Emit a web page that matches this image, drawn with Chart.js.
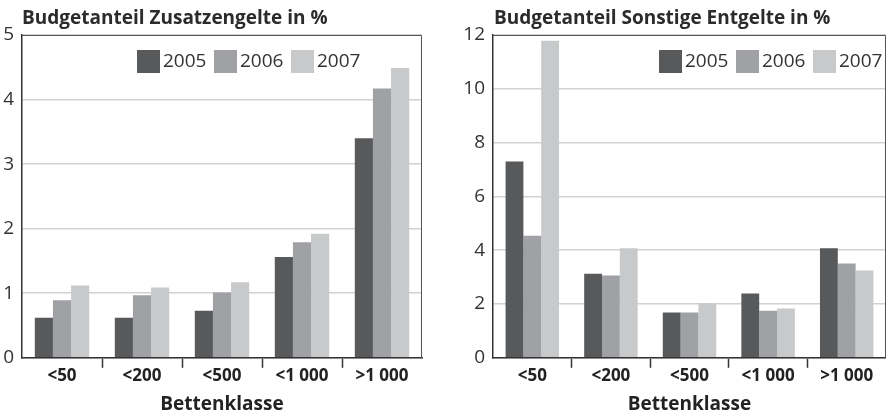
<!DOCTYPE html>
<html lang="de">
<head>
<meta charset="utf-8">
<title>Budgetanteile nach Bettenklasse</title>
<script src="https://cdn.jsdelivr.net/npm/chart.js@4.4.1/dist/chart.umd.min.js"></script>
<style>
  html, body { margin: 0; padding: 0; background: #fff; }
  body { width: 886px; height: 416px; position: relative; overflow: hidden; font-family: "Open Sans", sans-serif; }
  .panel { position: absolute; top: 0; width: 443px; height: 416px; }
  .panel h2 { position: absolute; top: 8px; margin: 0; font-size: 19px; line-height: 19px; font-weight: 700; color: #2b2b2b; white-space: nowrap; z-index: 2; }
</style>
</head>
<body>
<div class="panel" style="left:0">
  <h2 style="left:22px">Budgetanteil Zusatzengelte in %</h2>
  <canvas id="chartZusatz"></canvas>
</div>
<div class="panel" style="left:443px">
  <h2 style="left:51px">Budgetanteil Sonstige Entgelte in %</h2>
  <canvas id="chartSonstige"></canvas>
</div>
<script>
const categories = ["<50", "<200", "<500", "<1 000", ">1 000"];
const years = ["2005", "2006", "2007"];

const zusatz2005 = [0.62, 0.62, 0.73, 1.56, 3.40];
const zusatz2006 = [0.89, 0.97, 1.01, 1.79, 4.17];
const zusatz2007 = [1.12, 1.09, 1.17, 1.92, 4.49];

const sonstige2005 = [7.30, 3.12, 1.68, 2.39, 4.07];
const sonstige2006 = [4.54, 3.06, 1.68, 1.75, 3.51];
const sonstige2007 = [11.79, 4.07, 2.03, 1.83, 3.25];

const barColors = ["#58595b", "#a0a1a5", "#c8c9cb"];

Chart.defaults.font.family = "'Open Sans', sans-serif";

// top + right frame lines of the plot box
const frameLines = {
  id: "frameLines",
  beforeDatasetsDraw(chart) {
    const { ctx, chartArea: a } = chart;
    ctx.save();
    ctx.strokeStyle = "#555";
    ctx.lineWidth = 1;
    ctx.beginPath();
    ctx.moveTo(a.left, a.top + 0.5);
    ctx.lineTo(a.right - 0.5, a.top + 0.5);
    ctx.lineTo(a.right - 0.5, a.bottom);
    ctx.stroke();
    ctx.restore();
  }
};

// legend drawn inside the plot area
const boxLegend = {
  id: "boxLegend",
  afterDatasetsDraw(chart, args, opts) {
    const { ctx, chartArea: a } = chart;
    let x = a.left + opts.offsetX;
    const y = a.top + opts.offsetY;
    ctx.save();
    ctx.font = "19px 'Open Sans'";
    ctx.textBaseline = "middle";
    chart.data.datasets.forEach((ds) => {
      ctx.fillStyle = ds.backgroundColor;
      ctx.fillRect(x, y, 23, 23);
      ctx.fillStyle = "#333";
      ctx.fillText(ds.label, x + 26, y + 12);
      x += 77;
    });
    ctx.restore();
  }
};

const innerTicks = (c) => (c.index > 0 ? "#333" : "rgba(0,0,0,0)");

function makeChart(id, series, yMax, yStep, axisWidth, padRight, legendX) {
  return new Chart(document.getElementById(id), {
    type: "bar",
    data: {
      labels: categories,
      datasets: series.map((values, i) => ({
        label: years[i],
        data: values,
        backgroundColor: barColors[i],
        borderWidth: 0,
      })),
    },
    plugins: [frameLines, boxLegend],
    options: {
      responsive: true,
      maintainAspectRatio: false,
      animation: false,
      layout: { padding: { top: 35, right: padRight, bottom: 0, left: 0 } },
      datasets: { bar: { categoryPercentage: 0.68, barPercentage: 1 } },
      plugins: {
        legend: { display: false },
        tooltip: { enabled: false },
        boxLegend: { offsetX: legendX, offsetY: 15 },
      },
      scales: {
        x: {
          grid: {
            offset: true,
            drawOnChartArea: false,
            drawTicks: true,
            tickLength: 10,
            tickWidth: 1.5,
            color: innerTicks,
            tickColor: innerTicks,
          },
          border: { color: "#333", width: 1.5 },
          ticks: { color: "#222", font: { size: 17, weight: "bold" }, padding: -2 },
          title: {
            display: true,
            text: "Bettenklasse",
            color: "#222",
            font: { size: 19, weight: "bold" },
            padding: { top: 9, bottom: 0 },
          },
        },
        y: {
          min: 0,
          max: yMax,
          afterFit(scale) {
            scale.width = axisWidth;
          },
          grid: { color: "#d2d2d2", lineWidth: 1.5, drawTicks: false },
          border: { color: "#333", width: 1.5 },
          ticks: { stepSize: yStep, color: "#333", font: { size: 19 }, padding: 8 },
        },
      },
    },
  });
}

makeChart("chartZusatz", [zusatz2005, zusatz2006, zusatz2007], 5, 1, 22, 21, 115);
makeChart("chartSonstige", [sonstige2005, sonstige2006, sonstige2007], 12, 2, 50, 0, 166);
</script>
</body>
</html>
